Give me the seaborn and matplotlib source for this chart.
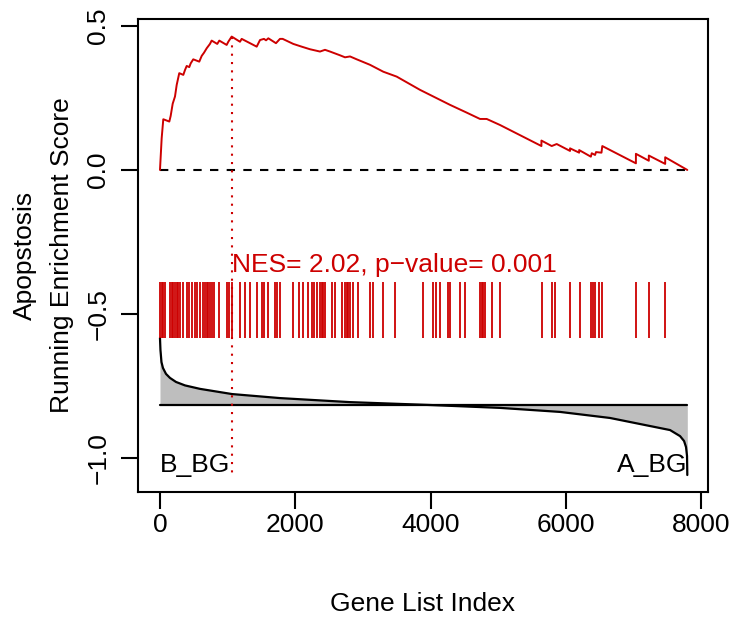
import matplotlib
matplotlib.use("Agg")
import matplotlib.pyplot as plt
import seaborn as sns
import numpy as np
import pandas as pd

# ---------------- data ----------------
# running enrichment score: vertices (gene rank, ES)
es_rank = [0, 25, 49, 138, 158, 188, 222, 247, 285, 345, 370, 395, 433, 454, 492,
           581, 617, 651, 691, 739, 764, 847, 877, 986, 1010, 1060, 1183, 1208,
           1430, 1479, 1538, 1568, 1602, 1715, 1774, 1814, 1971, 2095, 2218, 2366,
           2440, 2514, 2662, 2736, 2810, 2909, 3105, 3302, 3500, 3845, 4041, 4288,
           4535, 4732, 4831, 5028, 5640, 5640, 5792, 5866, 6063, 6063, 6198, 6198,
           6371, 6384, 6433, 6447, 6528, 6540, 7037, 7037, 7228, 7228, 7470, 7470, 7797]
es_value = [0.0, 0.11, 0.176, 0.168, 0.1875, 0.23, 0.255, 0.295, 0.336, 0.33, 0.347,
            0.361, 0.357, 0.37, 0.384, 0.376, 0.396, 0.407, 0.4225, 0.4375, 0.449,
            0.4375, 0.449, 0.434, 0.445, 0.463, 0.445, 0.455, 0.428, 0.451, 0.455,
            0.45, 0.457, 0.44, 0.455, 0.455, 0.4375, 0.428, 0.419, 0.411, 0.417,
            0.411, 0.398, 0.391, 0.394, 0.384, 0.365, 0.341, 0.324, 0.278, 0.255,
            0.226, 0.199, 0.177, 0.177, 0.156, 0.083, 0.102, 0.083, 0.09, 0.066,
            0.075, 0.06, 0.069, 0.046, 0.058, 0.052, 0.062, 0.06, 0.083, 0.023,
            0.056, 0.032, 0.05, 0.021, 0.044, 0.0]

# gene set hits (rank positions)
hit_rank = [0, 25, 49, 74, 148, 173, 197, 222, 247, 271, 296, 345, 395, 434, 469,
            518, 552, 592, 641, 666, 691, 715, 740, 765, 799, 873, 996, 1026, 1060,
            1183, 1257, 1331, 1440, 1504, 1538, 1602, 1701, 1735, 1775, 1972, 2061,
            2120, 2194, 2243, 2282, 2317, 2367, 2391, 2416, 2441, 2539, 2589, 2687,
            2737, 2761, 2786, 2811, 2860, 2934, 3107, 3156, 3304, 3476, 3896, 4043,
            4078, 4142, 4265, 4290, 4438, 4512, 4734, 4759, 4783, 4808, 4906, 5030,
            5646, 5794, 5843, 6065, 6213, 6371, 6396, 6435, 6494, 6543, 7037, 7224,
            7470]

# ranked list metric (scaled into plot units): vertices (rank, value)
metric_rank = [0, 7, 22, 44, 89, 148, 237, 370, 592, 1065, 1774, 2810, 3993, 5028,
               5915, 6654, 7246, 7542, 7690, 7749, 7778, 7793, 7797]
metric_value = [-0.583, -0.625, -0.667, -0.6875, -0.708, -0.722, -0.736, -0.748,
                -0.760, -0.778, -0.792, -0.806, -0.816, -0.826, -0.840, -0.861,
                -0.889, -0.903, -0.924, -0.941, -0.962, -0.993, -1.059]
metric_baseline = -0.815

n_genes = 7797
peak_rank = 1060
peak_es = 0.463
hit_low, hit_high = -0.585, -0.39

xticks = [0, 2000, 4000, 6000, 8000]
yticks = [-1.0, -0.5, 0.0, 0.5]
ytick_labels = ["\u22121.0", "\u22120.5", "0.0", "0.5"]
xlabel = "Gene List Index"
ylabel_lines = ["Apopstosis", "Running Enrichment Score"]
stat_text = "NES= 2.02, p\u2212value= 0.001"
left_label, right_label = "B_BG", "A_BG"

# ---------------- drawing ----------------
sns.set_style("white")
plt.rcParams["font.family"] = ["Liberation Sans", "DejaVu Sans"]
plt.rcParams["text.color"] = "black"
plt.rcParams["xtick.color"] = "black"
plt.rcParams["ytick.color"] = "black"
plt.rcParams["axes.labelcolor"] = "black"
FS = 19
RED = "#CD0000"

fig = plt.figure(figsize=(7.45, 6.2), dpi=100)
ax = fig.add_axes([138 / 745, 1 - 492 / 620, 570 / 745, 473 / 620])

es_df = pd.DataFrame({"rank": es_rank, "es": es_value})
met_df = pd.DataFrame({"rank": metric_rank, "metric": metric_value})

# ranked metric with grey fill to baseline
ax.fill_between(metric_rank, metric_value, metric_baseline, color="#BEBEBE", lw=0, zorder=1)
sns.lineplot(data=met_df, x="rank", y="metric", sort=False, estimator=None,
             color="black", lw=1.6, ax=ax, zorder=3)
ax.plot([0, n_genes], [metric_baseline, metric_baseline], color="black", lw=1.6, zorder=3)

# zero line
ax.plot([0, n_genes], [0, 0], color="black", lw=1.5, dashes=(4, 4), zorder=2)

# running ES
sns.lineplot(data=es_df, x="rank", y="es", sort=False, estimator=None,
             color=RED, lw=1.4, ax=ax, zorder=4)

# hits
ax.vlines(hit_rank, hit_low, hit_high, color=RED, lw=1.3, zorder=4)

# peak line
ax.plot([peak_rank, peak_rank], [peak_es, -1.059], color=RED, lw=1.5,
        linestyle=(0, (1, 3)), zorder=5)

ax.text(peak_rank, -0.33, stat_text, color=RED, fontsize=FS, ha="left", va="center")
ax.text(0, -1.024, left_label, color="black", fontsize=FS, ha="left", va="center")
ax.text(n_genes, -1.024, right_label, color="black", fontsize=FS, ha="right", va="center")

ax.set_xlim(-325, 8103)
ax.set_ylim(-1.118, 0.524)
ax.set_xticks(xticks)
ax.set_xticklabels([str(t) for t in xticks], fontsize=FS, color="black")
ax.set_yticks(yticks)
ax.set_yticklabels(ytick_labels, fontsize=FS, rotation=90, va="center", color="black")
ax.tick_params(axis="both", direction="out", length=12, width=1.5, color="black",
               bottom=True, left=True)
ax.tick_params(axis="x", pad=3)
ax.tick_params(axis="y", pad=8)
for s in ax.spines.values():
    s.set_color("black")
    s.set_linewidth(1.5)
ax.set_xlabel("")
ax.set_ylabel("")

fig.text(423 / 745, 1 - 604 / 620, xlabel, fontsize=FS, ha="center", va="center")
fig.text(25 / 745, 1 - 255 / 620, ylabel_lines[0], fontsize=FS, ha="center",
         va="center", rotation=90)
fig.text(62 / 745, 1 - 255 / 620, ylabel_lines[1], fontsize=FS, ha="center",
         va="center", rotation=90)

fig.savefig("out.png", dpi=100)
